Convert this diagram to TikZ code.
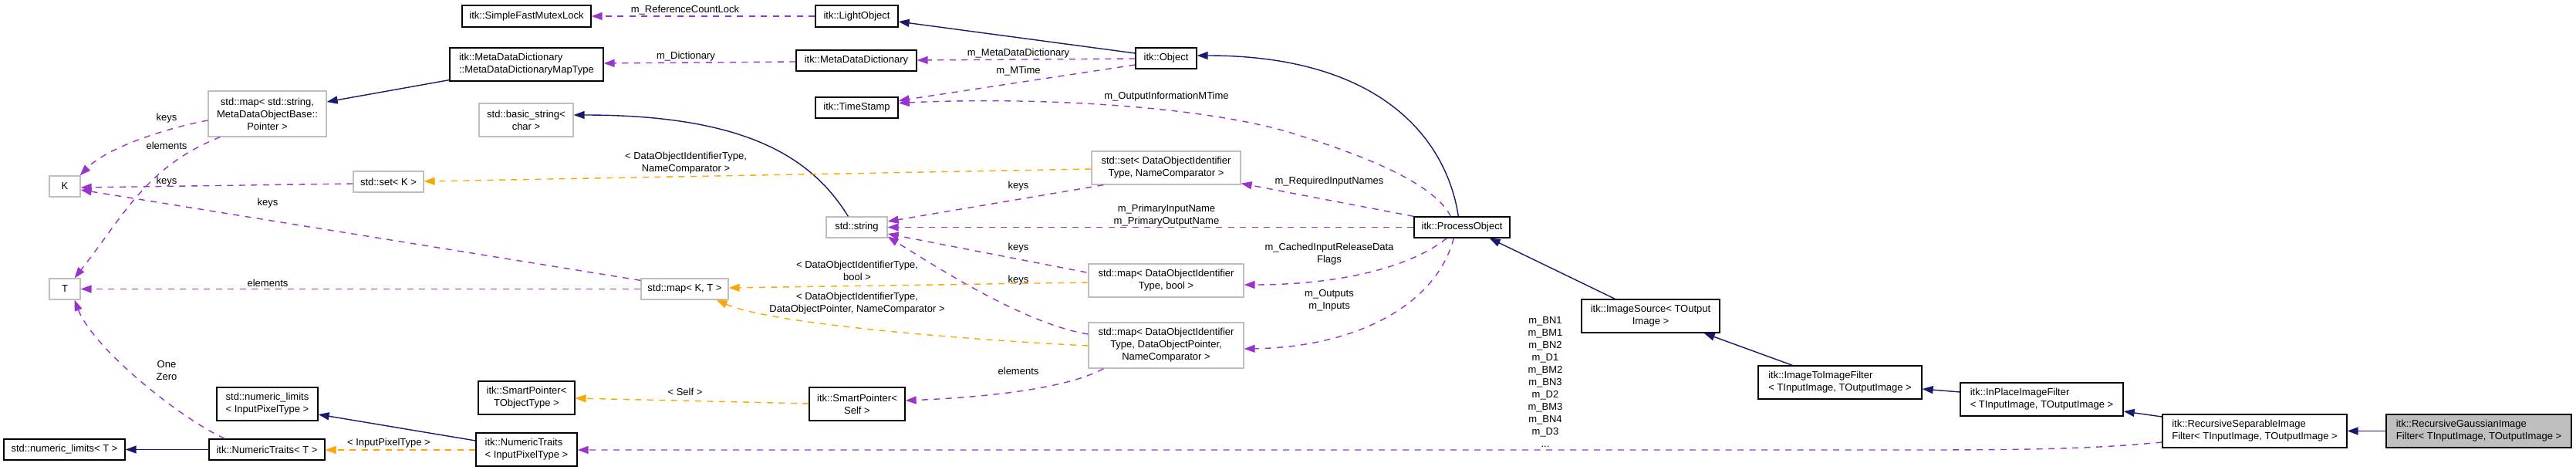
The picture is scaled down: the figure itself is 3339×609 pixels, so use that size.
\documentclass[tikz,border=0pt]{standalone}
\usepackage{fontspec}
\setmainfont{Liberation Sans}
\usetikzlibrary{arrows.meta,calc}
\definecolor{navy}{HTML}{191970}
\definecolor{dpurple}{HTML}{9A32CD}
\definecolor{dorange}{HTML}{FFA500}
\definecolor{lgray}{HTML}{BFBFBF}
\begin{document}
\begin{tikzpicture}[x=1pt,y=-1pt,
  box/.style={draw=black, line width=1.3pt, inner sep=0pt, font=\fontsize{13}{16}\selectfont, align=center, fill=white},
  gbox/.style={box, draw=lgray},
  lbl/.style={font=\fontsize{13}{16}\selectfont, align=center, inner sep=0pt},
  tip/.style={-{Triangle[length=14pt,width=10pt]}},
  nv/.style={draw=navy, line width=1.4pt, tip},
  pd/.style={draw=dpurple, line width=1.4pt, dash pattern=on 8pt off 7.5pt, tip},
  od/.style={draw=dorange, line width=1.4pt, dash pattern=on 8pt off 7.5pt, tip}
]
\useasboundingbox (0,0) rectangle (3339,609);
\fill[white] (0,0) rectangle (3339,609);

% nodes
\node[box, minimum width=167pt, minimum height=28pt] (mutex) at (682.5,21) {itk::SimpleFastMutexLock};
\node[box, minimum width=107pt, minimum height=28pt] (light) at (1110.5,21) {itk::LightObject};
\node[box, minimum width=199pt, minimum height=43pt, align=left] (maptype) at (682.5,83.5) {itk::MetaDataDictionary\\::MetaDataDictionaryMapType};
\node[box, minimum width=156pt, minimum height=27pt] (mdd) at (1110,78.5) {itk::MetaDataDictionary};
\node[box, minimum width=79pt, minimum height=27pt] (object) at (1511.5,75.5) {itk::Object};
\node[box, minimum width=107pt, minimum height=27pt] (tstamp) at (1110.5,139.5) {itk::TimeStamp};
\node[gbox, minimum width=122pt, minimum height=43pt] (bstr) at (682,155.5) {std::basic\_string<\\char >};
\node[gbox, minimum width=153pt, minimum height=59pt] (mapstr) at (346.5,147.5) {std::map< std::string,\\MetaDataObjectBase::\\Pointer >};
\node[gbox, minimum width=40pt, minimum height=27pt] (K) at (84,241.5) {K};
\node[gbox, minimum width=91pt, minimum height=27pt] (setK) at (503.5,235.5) {std::set< K >};
\node[gbox, minimum width=193pt, minimum height=43pt] (set2) at (1511.5,217.5) {std::set< DataObjectIdentifier\\Type, NameComparator >};
\node[gbox, minimum width=79pt, minimum height=27pt] (str) at (1110.5,294.5) {std::string};
\node[box, minimum width=124pt, minimum height=27pt] (proc) at (1895,294.5) {itk::ProcessObject};
\node[gbox, minimum width=113pt, minimum height=27pt] (mapKT) at (887.5,374.5) {std::map< K, T >};
\node[gbox, minimum width=201pt, minimum height=43pt] (mapbool) at (1511.5,363.5) {std::map< DataObjectIdentifier\\Type, bool >};
\node[gbox, minimum width=201pt, minimum height=59pt] (map3) at (1511.5,447.5) {std::map< DataObjectIdentifier\\Type, DataObjectPointer,\\NameComparator >};
\node[box, minimum width=125pt, minimum height=43pt] (spT) at (682.5,515.5) {itk::SmartPointer<\\TObjectType >};
\node[box, minimum width=124pt, minimum height=43pt] (spS) at (1111,523.5) {itk::SmartPointer<\\Self >};
\node[gbox, minimum width=40pt, minimum height=27pt] (T) at (84,374.5) {T};
\node[box, minimum width=131pt, minimum height=43pt, align=left] (nlIPT) at (346.5,523.5) {std::numeric\_limits\\< InputPixelType >};
\node[box, minimum width=157pt, minimum height=27pt] (nlT) at (83.5,582.5) {std::numeric\_limits< T >};
\node[box, minimum width=150pt, minimum height=27pt] (ntT) at (346,582.5) {itk::NumericTraits< T >};
\node[box, minimum width=131pt, minimum height=43pt, align=left] (ntIPT) at (682.5,582.5) {itk::NumericTraits\\< InputPixelType >};
\node[box, minimum width=179pt, minimum height=43pt] (isrc) at (2139.5,409.5) {itk::ImageSource< TOutput\\Image >};
\node[box, minimum width=212pt, minimum height=43pt, align=left] (i2i) at (2385,495.5) {itk::ImageToImageFilter\\< TInputImage, TOutputImage >};
\node[box, minimum width=211pt, minimum height=43pt, align=left] (inpl) at (2646.5,517.5) {itk::InPlaceImageFilter\\< TInputImage, TOutputImage >};
\node[box, minimum width=239pt, minimum height=43pt, align=left] (rsi) at (2922.5,558.5) {itk::RecursiveSeparableImage\\Filter< TInputImage, TOutputImage >};
\node[box, fill=lgray, minimum width=240pt, minimum height=43pt, align=left] (rgi) at (3213,558.5) {itk::RecursiveGaussianImage\\Filter< TInputImage, TOutputImage >};

% edges
\draw[pd] (light.west) -- (mutex.east);
\node[lbl] (l1) at (888,13) {m\_ReferenceCountLock};
\draw[nv] ($(object.west)+(0,-6.5)$) -- ($(light.east)+(0,7)$);
\draw[pd] ($(mdd.west)+(0,1.5)$) -- ($(maptype.east)+(0,-1.5)$);
\node[lbl] (l2) at (889,73) {m\_Dictionary};
\draw[pd] ($(object.west)+(0,0.5)$) -- ($(mdd.east)+(0,-0.5)$);
\node[lbl] (l3) at (1320,69) {m\_MetaDataDictionary};
\draw[pd] ($(object.west)+(0,8.5)$) -- ($(tstamp.east)+(0,-9)$);
\node[lbl] (l4) at (1320,92) {m\_MTime};
\draw[pd] ($(proc.north west)+(48,0)$) .. controls (1860,240) and (1780,205) .. (1673,172) .. controls (1560,138) and (1350,125) .. ($(tstamp.east)+(0,-6)$);
\node[lbl] (l5) at (1512,125) {m\_OutputInformationMTime};
\draw[nv] ($(proc.north west)+(58,0)$) .. controls (1875,180) and (1790,72) .. ($(object.east)+(0,-3.5)$);
\draw[nv] ($(str.north west)+(29,0)$) .. controls (1050,200) and (960,149) .. ($(bstr.east)+(0,-6.5)$);
\draw[nv] ($(maptype.south west)+(0,-2)$) -- ($(mapstr.east)+(0,-15.5)$);
\draw[pd] ($(mapstr.west)+(0,8.5)$) .. controls (220,165) and (140,190) .. ($(K.north east)+(-1,0)$);
\node[lbl] (l6) at (216,153) {keys};
\draw[pd] ($(mapstr.south west)+(16,0)$) .. controls (190,215) and (160,280) .. ($(T.north east)+(-8,0)$);
\node[lbl] (l7) at (216,189) {elements};
\draw[pd] ($(setK.west)+(0,2.5)$) -- ($(K.east)+(0,1.5)$);
\node[lbl] (l8) at (216,235) {keys};
\draw[pd] ($(mapKT.north west)+(0,3)$) -- ($(K.east)+(0,4.5)$);
\node[lbl] (l9) at (347,263) {keys};
\draw[pd] (mapKT.west) -- (T.east);
\node[lbl] (l10) at (347,367) {elements};
\draw[od] ($(set2.west)+(0,1.5)$) -- ($(setK.east)+(0,-0.5)$);
\node[lbl] (l11) at (889,211) {< DataObjectIdentifierType,\\NameComparator >};
\draw[pd] ($(set2.south west)+(16,0)$) -- ($(str.east)+(0,-7.5)$);
\node[lbl] (l12) at (1320,241) {keys};
\draw[pd] (proc.north west) -- ($(set2.south east)+(0,-2)$);
\node[lbl] (l13) at (1723,235) {m\_RequiredInputNames};
\draw[pd] (proc.west) -- (str.east);
\node[lbl] (l14) at (1512,279) {m\_PrimaryInputName\\m\_PrimaryOutputName};
\draw[pd] ($(mapbool.west)+(-2,-10.5)$) -- ($(str.east)+(0,8.5)$);
\node[lbl] (l15) at (1320,321) {keys};
\draw[pd] ($(map3.west)+(0,-14.5)$) .. controls (1330,420) and (1220,350) .. ($(str.south east)+(0,-2)$);
\node[lbl] (l16) at (1320,363) {keys};
\draw[od] ($(mapbool.west)+(0,2.5)$) -- ($(mapKT.east)+(0,-1.5)$);
\node[lbl] (l17) at (1111,351) {< DataObjectIdentifierType,\\bool >};
\draw[od] ($(map3.west)+(0,0.5)$) .. controls (1250,440) and (1000,420) .. ($(mapKT.south east)+(-16,0)$);
\node[lbl] (l18) at (1111,393) {< DataObjectIdentifierType,\\DataObjectPointer, NameComparator >};
\draw[pd] ($(proc.south west)+(43,0)$) .. controls (1830,345) and (1740,369) .. ($(mapbool.east)+(0,5.5)$);
\node[lbl] (l19) at (1723,329) {m\_CachedInputReleaseData\\Flags};
\draw[pd] ($(proc.south west)+(52,0)$) .. controls (1860,400) and (1750,450) .. ($(map3.east)+(0,4.5)$);
\node[lbl] (l20) at (1723,389) {m\_Outputs\\m\_Inputs};
\draw[pd] ($(map3.south west)+(20,0)$) .. controls (1380,505) and (1270,515) .. ($(spS.east)+(0,-4.5)$);
\node[lbl] (l21) at (1320,481) {elements};
\draw[od] ($(spS.west)+(0,-0.5)$) -- ($(spT.east)+(0,0.5)$);
\node[lbl] (l22) at (888,508) {< Self >};
\draw[nv] ($(ntIPT.west)+(0,-11.5)$) -- ($(nlIPT.east)+(0,13.5)$);
\draw[od] ($(ntIPT.west)+(0,0.5)$) -- ($(ntT.east)+(0,0.5)$);
\node[lbl] (l23) at (504,574) {< InputPixelType >};
\draw[nv] (ntT.west) -- (nlT.east);
\draw[pd] ($(ntT.north west)+(21,0)$) .. controls (230,540) and (120,450) .. ($(T.south east)+(-8,0)$);
\node[lbl] (l24) at (216,480) {One\\Zero};
\draw[pd] ($(rsi.west)+(0,14.5)$) .. controls (2700,583) and (2600,583) .. (2450,583) -- ($(ntIPT.east)+(0,0.5)$);
\node[lbl] (l25) at (2003,495) {m\_BN1\\m\_BM1\\m\_BN2\\m\_D1\\m\_BM2\\m\_BN3\\m\_D2\\m\_BM3\\m\_BN4\\m\_D3\\...};
\draw[nv] ($(isrc.north west)+(44,0)$) -- ($(proc.south east)+(-27,0)$);
\draw[nv] ($(i2i.north west)+(45,0)$) -- ($(isrc.south east)+(-21,0)$);
\draw[nv] ($(inpl.west)+(0,-9.5)$) -- ($(i2i.east)+(0,8.5)$);
\draw[nv] ($(rsi.west)+(0,-18.5)$) -- ($(inpl.east)+(0,15.5)$);
\draw[nv] (rgi.west) -- (rsi.east);
\end{tikzpicture}
\end{document}
